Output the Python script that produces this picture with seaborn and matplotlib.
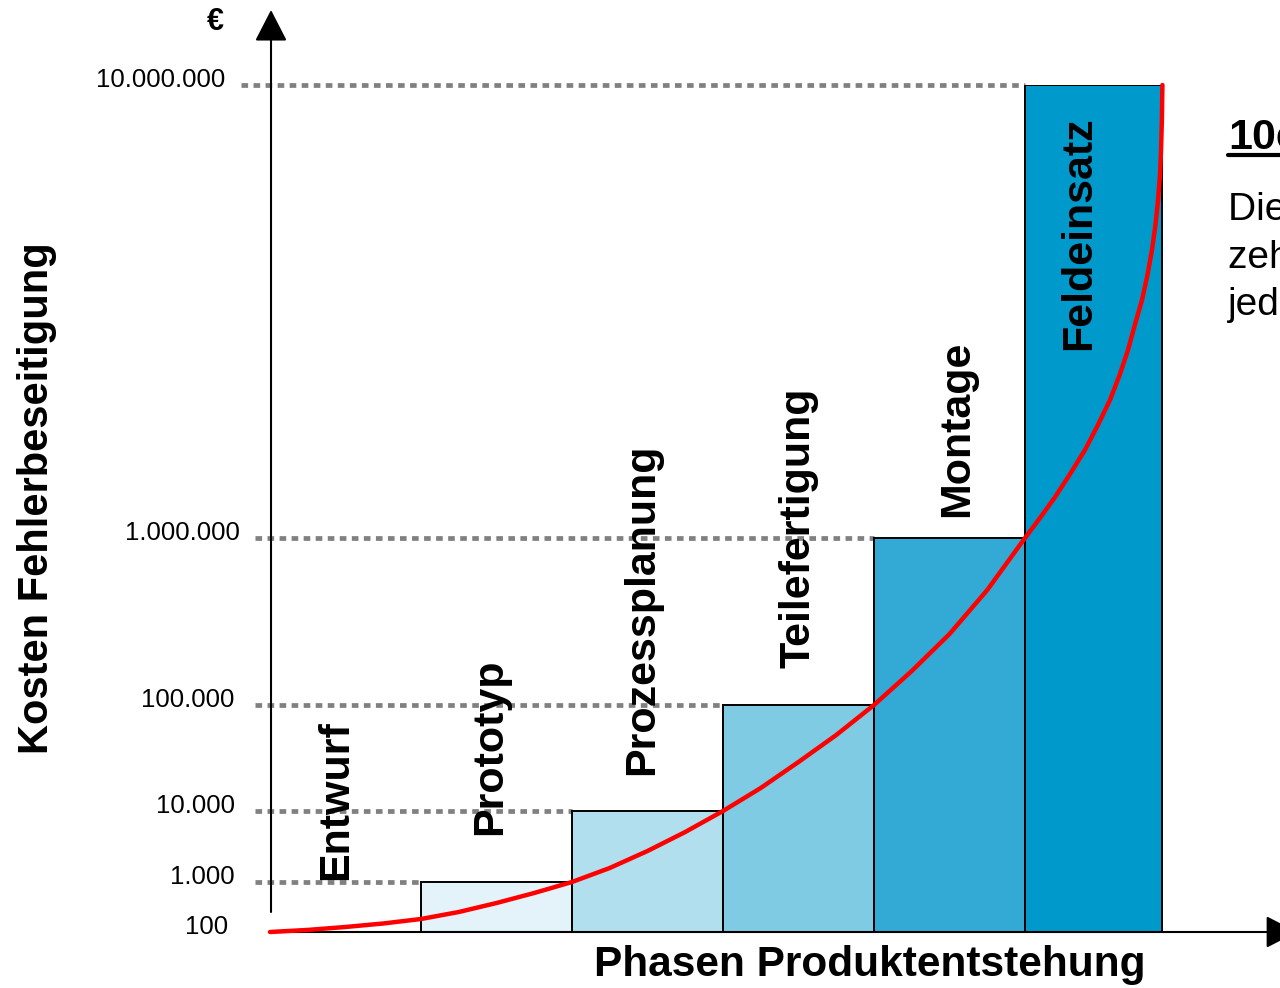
import numpy as np
import pandas as pd
import seaborn as sns
import matplotlib.pyplot as plt
from matplotlib.transforms import blended_transform_factory, offset_copy
from matplotlib.lines import Line2D

# Phases and cost of fixing an error (rule of ten)
phases = ['Entwurf', 'Prototyp', 'Prozessplanung', 'Teilefertigung', 'Montage', 'Feldeinsatz']
costs = [100, 1000, 10000, 100000, 1000000, 10000000]
bar_widths = [1, 1, 1, 1, 1, 0.91]
bar_colors = ['white', '#E4F3F9', '#B1DFEE', '#7FCBE3', '#33AAD5', '#0099CC']

# red cost curve (x in phase units, cost in €)
curve_x = [0, 0.25, 0.5, 0.75, 1.0, 1.25, 1.5, 1.75, 2.0, 2.25, 2.5, 2.75, 3.0,
           3.25, 3.5, 3.75, 4.0, 4.25, 4.5, 4.75, 5.0,
           5.099, 5.199, 5.298, 5.397, 5.483, 5.563, 5.629, 5.682, 5.733, 5.775,
           5.811, 5.841, 5.864, 5.881, 5.894, 5.901, 5.907, 5.91]
curve_cost = [100, 110, 126, 148, 182, 251, 380, 603, 1000, 1575, 2733, 5061, 10000,
              16480, 29000, 52120, 100000, 159800, 266100, 488200, 1000000,
              1107000, 1231000, 1384000, 1564000, 1776000, 2017000, 2301000,
              2600000, 2999000, 3353000, 3807000, 4323000, 4909000, 5574000,
              6329000, 7186000, 8499000, 10000000]

# the chart's own (non-uniform) cost axis: height of each decade on the page
decade_exp = [2, 3, 4, 5, 6, 7]
decade_height = [0, 50, 121, 227, 394, 847]


def fwd(v):
    v = np.clip(np.asarray(v, dtype=float), 1e-9, None)
    return np.interp(np.log10(v), decade_exp, decade_height)


def inv(h):
    return 10 ** np.interp(np.asarray(h, dtype=float), decade_height, decade_exp)


sns.set_theme(style='white')
plt.rcParams['font.family'] = ['Liberation Sans', 'DejaVu Sans']
plt.rcParams['text.color'] = 'black'

fig = plt.figure(figsize=(12.8, 9.88), dpi=100)
ax = fig.add_axes([270 / 1280, 56 / 988, 1010 / 1280, 847 / 988])
ax.set_yscale('function', functions=(fwd, inv))

# bars
lefts = np.arange(len(phases))
ax.bar(lefts, np.array(costs) - 100, width=bar_widths, bottom=100, align='edge',
       color=bar_colors, edgecolor='black', linewidth=1.4, zorder=2)

# dotted level lines up to the next bar, plus tick labels
dot_start = [None, -0.1, -0.1, -0.1, -0.1, -0.19]
label_x = [-0.278, -0.232, -0.232, -0.238, -0.199, -0.298]
lab_tr = offset_copy(ax.transData, fig=fig, y=5, units='dots')
for i, c in enumerate(costs):
    if dot_start[i] is not None:
        ax.plot([dot_start[i], lefts[i]], [c, c], color='#808080', lw=3.4,
                linestyle=(0, (1.4, 1.15)), clip_on=False, zorder=1)
    ax.text(label_x[i], c, f"{c:,}".replace(',', '.'), transform=lab_tr,
            ha='right', va='center', fontsize=18.5, color='black', zorder=5)

# red curve
curve = pd.DataFrame({'x': curve_x, 'cost': curve_cost})
sns.lineplot(data=curve, x='x', y='cost', color='#FF0000', linewidth=3.2,
             ax=ax, zorder=4)
ax.lines[-1].set_clip_on(False)
ax.lines[-1].set_solid_joinstyle('round')

ax.set_xlim(0, 1010 / 151)
ax.set_ylim(100, 1e7)
ax.set_axis_off()

# phase labels
label_pos_x = [0.437, 1.457, 2.464, 3.497, 4.55, 5.358]
label_bottom = [0.0614, 0.1145, 0.1854, 0.3117, 0.490, 0.687]
tr = blended_transform_factory(ax.transData, ax.transAxes)
for name, lx, lb in zip(phases, label_pos_x, label_bottom):
    ax.text(lx, lb, name, transform=tr, rotation=90, ha='center', va='bottom',
            fontsize=31, fontweight='bold', color='black', zorder=6)

# axis arrows
arrow = dict(arrowstyle='-|>,head_length=0.7,head_width=0.36', mutation_scale=28,
             lw=1.5, color='black', shrinkA=0, shrinkB=0)
ax.annotate('', xy=(0.001, 922 / 847), xytext=(0.001, 20 / 847),
            xycoords='axes fraction', arrowprops=arrow, annotation_clip=False)
ax.annotate('', xy=(1.017, 0), xytext=(0, 0),
            xycoords='axes fraction', arrowprops=arrow, annotation_clip=False)

# axis titles
fig.text(215 / 1280, 1 - 22 / 988, '€', ha='center', va='center',
         fontsize=22, fontweight='bold')
fig.text(37 / 1280, 1 - 498 / 988, 'Kosten Fehlerbeseitigung', rotation=90,
         ha='center', va='center', fontsize=30, fontweight='bold')
fig.text(870 / 1280, 1 - 965 / 988, 'Phasen Produktentstehung',
         ha='center', va='center', fontsize=30.5, fontweight='bold')

# side note (runs off the page)
fig.text(1228 / 1280, 1 - 149 / 988, '10er-Regel', ha='left', va='baseline',
         fontsize=31, fontweight='bold')
fig.add_artist(Line2D([1228 / 1280, 1.05], [1 - 155 / 988, 1 - 155 / 988],
                      transform=fig.transFigure, color='black', lw=3))
note_lines = ['Die Fehlerkosten steigen', 'zehnfach mit', 'jeder Phase.']
for k, line in enumerate(note_lines):
    fig.text(1228 / 1280, 1 - (220 + 47.5 * k) / 988, line, ha='left',
             va='baseline', fontsize=28)

fig.savefig('out.png', dpi=100)
